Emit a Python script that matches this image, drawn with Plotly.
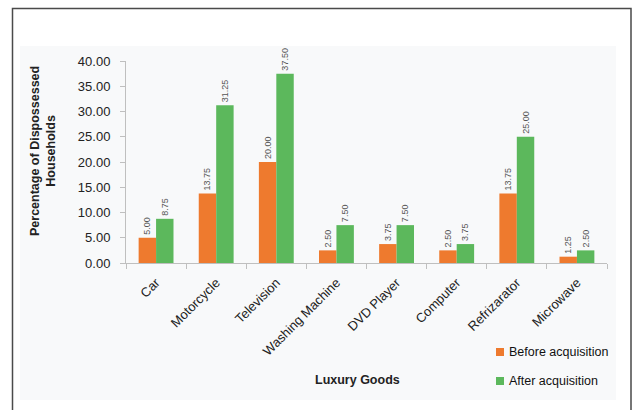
import plotly.graph_objects as go

goods = ["Car", "Motorcycle", "Television", "Washing Machine",
         "DVD Player", "Computer", "Refrizarator", "Microwave"]
before_acq = [5.00, 13.75, 20.00, 2.50, 3.75, 2.50, 13.75, 1.25]
after_acq = [8.75, 31.25, 37.50, 7.50, 7.50, 3.75, 25.00, 2.50]
y_ticks = [0, 5, 10, 15, 20, 25, 30, 35, 40]
series_names = ["Before acquisition", "After acquisition"]

W, H = 639, 410
L, R, T, B = 126, 32, 61, 147
PW, PH = W - L - R, H - T - B


def px(x):
    return (x - L) / PW


def py(y):
    return (H - B - y) / PH


ORANGE = "#ee7a2e"
GREEN = "#5cb85c"
FONT = "Liberation Sans, Arial, sans-serif"

fig = go.Figure()
for name, vals, col in zip(series_names, [before_acq, after_acq], [ORANGE, GREEN]):
    fig.add_bar(x=goods, y=vals, name=name, showlegend=False,
                marker=dict(color=col, line=dict(width=0)),
                text=[f"{v:.2f}" for v in vals], textposition="outside",
                textangle=-90, constraintext="none", cliponaxis=False,
                textfont=dict(size=9, color="#555555", family=FONT))

shapes = [
    # faint inner panel
    dict(type="rect", xref="paper", yref="paper",
         x0=px(20), x1=px(616), y0=py(400), y1=py(46),
         fillcolor="#f8f9fa", line=dict(width=0), layer="below"),
    # outer frame
    dict(type="rect", xref="paper", yref="paper",
         x0=px(12.5), x1=px(631), y0=py(415), y1=py(8.5),
         fillcolor="rgba(0,0,0,0)", line=dict(color="#4a4a4a", width=1.5),
         layer="below"),
]

annotations = [
    dict(text="<b>Percentage of Dispossessed<br>Households</b>",
         xref="paper", yref="paper", x=px(43), y=py(151),
         xanchor="center", yanchor="middle",
         textangle=-90, showarrow=False,
         font=dict(size=12.5, color="#222222", family=FONT)),
    dict(text="<b>Luxury Goods</b>", xref="paper", yref="paper",
         x=px(357), y=py(380), xanchor="center", yanchor="middle",
         showarrow=False,
         font=dict(size=12.5, color="#222222", family=FONT)),
]

# legend: small square swatch followed by the series name
for i, (name, col) in enumerate(zip(series_names, [ORANGE, GREEN])):
    cy = 352 + 29 * i
    shapes.append(dict(type="rect", xref="paper", yref="paper",
                       x0=px(496), x1=px(504), y0=py(cy + 4), y1=py(cy - 4),
                       fillcolor=col, line=dict(width=0)))
    annotations.append(dict(text=name, xref="paper", yref="paper",
                            x=px(507), y=py(cy), xanchor="left",
                            yanchor="middle", showarrow=False,
                            font=dict(size=12.5, color="#111111", family=FONT)))

fig.update_layout(
    width=W, height=H,
    margin=dict(l=L, r=R, t=T, b=B),
    paper_bgcolor="white", plot_bgcolor="rgba(0,0,0,0)",
    barmode="group", bargap=0.42, bargroupgap=0,
    font=dict(family=FONT, color="#222222"),
    shapes=shapes, annotations=annotations,
    showlegend=False,
    xaxis=dict(showline=True, linecolor="#bfbfbf", linewidth=1,
               ticks="outside", tickson="boundaries", ticklen=5,
               tickcolor="#bfbfbf", tickangle=-45, ticklabelstandoff=6,
               tickfont=dict(size=13, color="#222222", family=FONT),
               showgrid=False, zeroline=False),
    yaxis=dict(range=[0, 40], tickvals=y_ticks,
               ticktext=[f"{v:.2f}" for v in y_ticks],
               showline=True, linecolor="#bfbfbf", linewidth=1,
               ticks="outside", ticklen=5, tickcolor="#bfbfbf",
               ticklabelstandoff=7,
               tickfont=dict(size=13, color="#222222", family=FONT),
               showgrid=False, zeroline=False),
)

fig.write_html("out.html")
